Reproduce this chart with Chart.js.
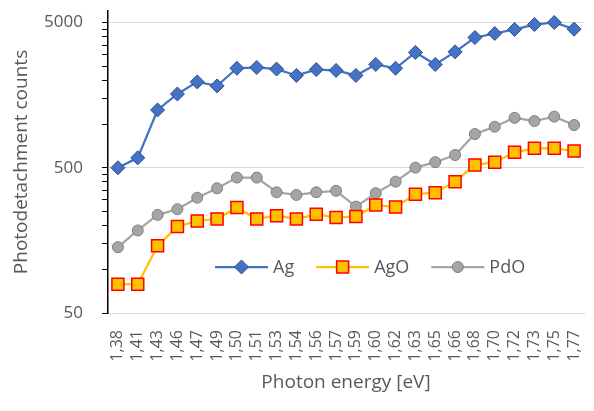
<!DOCTYPE html>
<html lang="en">
<head>
  <meta charset="utf-8" />
  <title>Photodetachment counts</title>
  <script src="https://cdn.jsdelivr.net/npm/chart.js@4.4.1/dist/chart.umd.min.js"></script>
  <style>
    * { margin: 0; padding: 0; box-sizing: border-box; }
    body { background: #ffffff; width: 594px; height: 411px; overflow: hidden; }
    .wrap { position: relative; width: 594px; height: 411px; }
  </style>
</head>
<body>
  <div class="wrap">
    <canvas id="chart"></canvas>
  </div>
  <script>
    // data
    const energies = ["1,38", "1,41", "1,43", "1,46", "1,47", "1,49", "1,50", "1,51",
      "1,53", "1,54", "1,56", "1,57", "1,59", "1,60", "1,62", "1,63",
      "1,65", "1,66", "1,68", "1,70", "1,72", "1,73", "1,75", "1,77"];
    const agCounts = [500, 585, 1250, 1610, 1950, 1830, 2420, 2450, 2390, 2160, 2370, 2340,
      2160, 2570, 2420, 3110, 2570, 3140, 3940, 4200, 4480, 4840, 5000, 4500];
    const agoCounts = [79, 79, 145, 197, 215, 222, 266, 222, 234, 222, 239, 227,
      231, 277, 268, 329, 337, 401, 523, 546, 639, 680, 680, 652];
    const pdoCounts = [142, 185, 237, 259, 311, 361, 428, 428, 339, 325, 339, 347,
      270, 334, 401, 501, 546, 612, 853, 958, 1104, 1048, 1124, 984];
    const yLabels = [50, 500, 5000];

    const textColor = "#595959";
    const font = "'Open Sans', sans-serif";

    // log axis ticks: majors at 50/500/5000, minor marks at multiples of the decade start
    const buildLogTicks = (scale) => {
      const ticks = [];
      for (let d = 50; d <= 5000; d *= 10) {
        for (let k = 1; k < 10; k++) {
          const v = d * k;
          if (v > 5000) break;
          ticks.push({ value: v, major: yLabels.includes(v) });
        }
      }
      scale.ticks = ticks;
    };

    // legend drawn inside the plot, like the original
    const innerLegend = {
      id: "innerLegend",
      afterDatasetsDraw(chart) {
        const { ctx, chartArea } = chart;
        const y = chartArea.bottom - 46;
        let x = chartArea.left + 107;
        ctx.save();
        ctx.font = "18px " + font;
        ctx.textBaseline = "middle";
        chart.data.datasets.forEach((ds) => {
          ctx.strokeStyle = ds.borderColor;
          ctx.lineWidth = ds.borderWidth;
          ctx.beginPath();
          ctx.moveTo(x, y);
          ctx.lineTo(x + 53, y);
          ctx.stroke();
          ctx.fillStyle = ds.pointBackgroundColor;
          ctx.strokeStyle = ds.pointBorderColor;
          ctx.lineWidth = ds.pointBorderWidth;
          Chart.helpers.drawPoint(ctx, { pointStyle: ds.pointStyle, radius: ds.pointRadius, rotation: 0, borderWidth: ds.pointBorderWidth }, x + 26.5, y);
          ctx.fillStyle = textColor;
          ctx.fillText(ds.label, x + 58, y + 1);
          x += 58 + ctx.measureText(ds.label).width + 22;
        });
        ctx.restore();
      }
    };

    new Chart(document.getElementById("chart"), {
      type: "line",
      data: {
        labels: energies,
        datasets: [
          {
            label: "Ag",
            data: agCounts,
            borderColor: "#4472C4",
            borderWidth: 2.25,
            pointStyle: "rectRot",
            pointRadius: 7,
            pointBackgroundColor: "#4472C4",
            pointBorderColor: "#2F4F8A",
            pointBorderWidth: 1
          },
          {
            label: "AgO",
            data: agoCounts,
            borderColor: "#FFC000",
            borderWidth: 2.25,
            pointStyle: "rect",
            pointRadius: 8.5,
            pointBackgroundColor: "#FFC000",
            pointBorderColor: "#FF0000",
            pointBorderWidth: 1.5
          },
          {
            label: "PdO",
            data: pdoCounts,
            borderColor: "#A5A5A5",
            borderWidth: 2.25,
            pointStyle: "circle",
            pointRadius: 5.5,
            pointBackgroundColor: "#A5A5A5",
            pointBorderColor: "#7F7F7F",
            pointBorderWidth: 1
          }
        ]
      },
      options: {
        responsive: true,
        maintainAspectRatio: false,
        animation: false,
        layout: { padding: { top: 11, right: 0, bottom: 0, left: 0 } },
        plugins: {
          legend: { display: false },
          tooltip: { enabled: false }
        },
        scales: {
          x: {
            offset: true,
            grid: { display: false, drawTicks: false },
            border: { display: true, color: "#D9D9D9", width: 1 },
            ticks: {
              color: textColor,
              font: { family: font, size: 16 },
              minRotation: 90,
              maxRotation: 90,
              autoSkip: false,
              padding: 17
            },
            title: {
              display: true,
              text: "Photon energy [eV]",
              color: textColor,
              font: { family: font, size: 19 },
              padding: { top: 0, bottom: 17 }
            },
            afterFit: (scale) => {
              scale.height = 98;
              scale.paddingLeft = 0;
              scale.paddingRight = 0;
            }
          },
          y: {
            type: "logarithmic",
            min: 50,
            max: 6000,
            afterBuildTicks: buildLogTicks,
            grid: {
              color: (c) => (c.tick && c.tick.major ? "#D9D9D9" : "rgba(0,0,0,0)"),
              tickColor: "#000000",
              tickLength: 6,
              lineWidth: 1
            },
            border: { display: true, color: "#000000", width: 1.5 },
            ticks: {
              color: textColor,
              font: { family: font, size: 17 },
              padding: 19,
              autoSkip: false,
              callback: (v) => (yLabels.includes(v) ? String(v) : "")
            },
            title: {
              display: true,
              text: "Photodetachment counts",
              color: textColor,
              font: { family: font, size: 19 },
              padding: { top: 10, bottom: 0 }
            },
            afterFit: (scale) => {
              scale.width = 108;
              scale.paddingTop = 0;
              scale.paddingBottom = 0;
            }
          }
        }
      },
      plugins: [innerLegend]
    });
  </script>
</body>
</html>
